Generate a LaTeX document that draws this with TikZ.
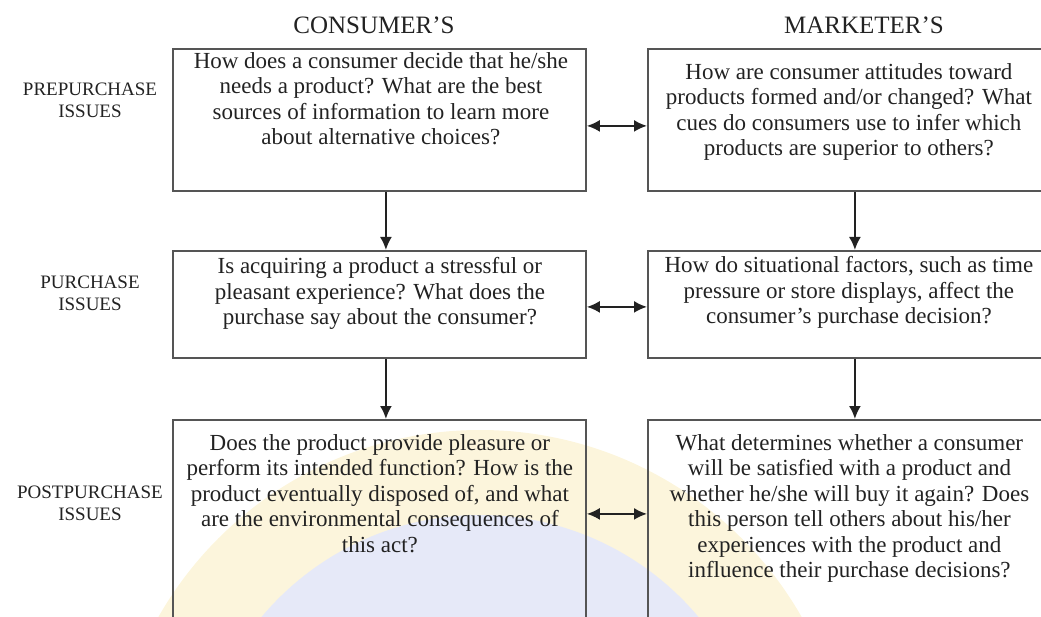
\documentclass[tikz,border=0pt]{standalone}
\usepackage{fontspec}
\setmainfont{Liberation Serif}
\usetikzlibrary{arrows.meta}
\definecolor{boxline}{HTML}{555555}
\definecolor{ink}{HTML}{222222}
\definecolor{sealgold}{HTML}{FCF5DC}
\definecolor{sealblue}{HTML}{E6E9F8}
\begin{document}
\begin{tikzpicture}[x=1pt,y=-1pt,
  box/.style={draw=boxline, line width=1.8pt, minimum width=413pt, inner sep=0pt, anchor=north west},
  qtext/.style={font=\fontsize{23}{25.5}\selectfont, align=center, text=ink, inner sep=0pt, anchor=north},
  colhead/.style={font=\fontsize{25}{28}\selectfont, text=ink, inner sep=0pt},
  rowlab/.style={font=\fontsize{19}{22}\selectfont, align=center, text=ink, inner sep=0pt},
  tip/.tip={Latex[length=13pt,width=12pt]},
  link/.style={draw=ink, line width=2pt, -tip},
  duplex/.style={draw=ink, line width=2pt, tip-tip}
]
\useasboundingbox (0,0) rectangle (1041,617);
\clip (0,0) rectangle (1041,617);

% faint seal printed behind the lower row
\fill[sealgold] (480,800) circle (370);
\fill[sealblue] (480,800) circle (285);

% column headings
\node[colhead] (hcons) at (374,25) {CONSUMER’S};
\node[colhead] (hmark) at (864,25) {MARKETER’S};

% row labels
\node[rowlab] (lpre)  at (90,100) {PREPURCHASE\\ISSUES};
\node[rowlab] (lpur)  at (90,293) {PURCHASE\\ISSUES};
\node[rowlab] (lpost) at (90,503) {POSTPURCHASE\\ISSUES};

% question boxes
\node[box, minimum height=142pt] (c1) at (172,48)  {};
\node[box, minimum height=107pt] (c2) at (172,250) {};
\node[box, minimum height=260pt] (c3) at (172,419) {};
\node[box, minimum height=142pt] (m1) at (647,48)  {};
\node[box, minimum height=107pt] (m2) at (647,250) {};
\node[box, minimum height=260pt] (m3) at (647,419) {};

% questions
\node[qtext] (c1t) at ([xshift=1.5pt,yshift=-4.3pt]c1.north)
  {How does a consumer decide that he/she\\needs a product? What are the best\\sources of information to learn more\\about alternative choices?};
\node[qtext] (m1t) at ([xshift=-5.5pt,yshift=-15.3pt]m1.north)
  {How are consumer attitudes toward\\products formed and/or changed? What\\cues do consumers use to infer which\\products are superior to others?};
\node[qtext] (c2t) at ([xshift=0.5pt,yshift=-7.3pt]c2.north)
  {Is acquiring a product a stressful or\\pleasant experience? What does the\\purchase say about the consumer?};
\node[qtext] (m2t) at ([xshift=-5.5pt,yshift=-6.3pt]m2.north)
  {How do situational factors, such as time\\pressure or store displays, affect the\\consumer’s purchase decision?};
\node[qtext] (c3t) at ([xshift=0.5pt,yshift=-15.3pt]c3.north)
  {Does the product provide pleasure or\\perform its intended function? How is the\\product eventually disposed of, and what\\are the environmental consequences of\\this act?};
\node[qtext] (m3t) at ([xshift=-5pt,yshift=-15.3pt]m3.north)
  {What determines whether a consumer\\will be satisfied with a product and\\whether he/she will buy it again? Does\\this person tell others about his/her\\experiences with the product and\\influence their purchase decisions?};

% flow down each column
\draw[link] ([xshift=6.5pt]c1.south) -- ([xshift=6.5pt]c2.north);
\draw[link] ([xshift=6.5pt]c2.south) -- ([xshift=6.5pt]c3.north);
\draw[link] ([xshift=0.5pt]m1.south) -- ([xshift=0.5pt]m2.north);
\draw[link] ([xshift=0.5pt]m2.south) -- ([xshift=0.5pt]m3.north);

% links between the two views
\draw[duplex] ([yshift=-6pt]c1.east) -- ([yshift=-6pt]m1.west);
\draw[duplex] ([yshift=-2.5pt]c2.east) -- ([yshift=-2.5pt]m2.west);
\draw[duplex] ([yshift=36pt]c3.east) -- ([yshift=36pt]m3.west);
\end{tikzpicture}
\end{document}
